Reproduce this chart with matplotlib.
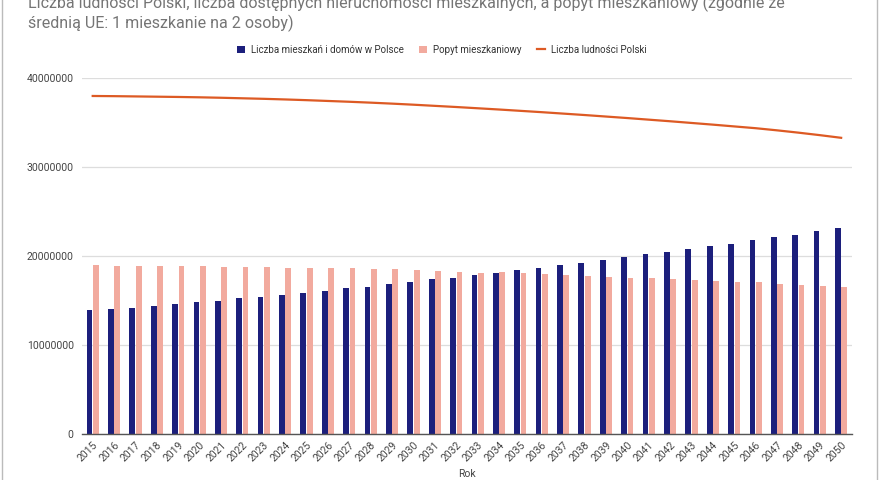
import matplotlib.pyplot as plt
import numpy as np
from matplotlib.patches import Rectangle

plt.rcParams['font.family'] = ['Roboto', 'DejaVu Sans']

years = [str(y) for y in range(2015, 2051)]

# liczba mieszkan i domow (mln)
homes = [13.93, 14.04, 14.2, 14.4, 14.6, 14.8, 14.98, 15.25, 15.43, 15.6,
         15.88, 16.1, 16.37, 16.55, 16.85, 17.1, 17.38, 17.57, 17.83, 18.12,
         18.39, 18.69, 18.96, 19.25, 19.51, 19.89, 20.19, 20.45, 20.82, 21.09,
         21.38, 21.76, 22.1, 22.4, 22.77, 23.11]

# popyt mieszkaniowy (mln)
demand = [18.99, 18.92, 18.9, 18.88, 18.88, 18.88, 18.8, 18.8, 18.78, 18.68,
          18.68, 18.6, 18.6, 18.5, 18.5, 18.38, 18.28, 18.2, 18.12, 18.17,
          18.06, 17.98, 17.83, 17.75, 17.64, 17.57, 17.49, 17.38, 17.3, 17.23,
          17.12, 17.04, 16.85, 16.74, 16.63, 16.55]

# liczba ludnosci (mln)
population = [37.98, 37.96, 37.93, 37.9, 37.87, 37.83, 37.78, 37.72, 37.66, 37.59,
              37.51, 37.42, 37.33, 37.23, 37.12, 37.0, 36.87, 36.74, 36.6, 36.46,
              36.31, 36.16, 36.0, 35.84, 35.67, 35.5, 35.32, 35.14, 34.95, 34.76,
              34.56, 34.36, 34.12, 33.86, 33.58, 33.28]

homes = np.array(homes) * 1e6
demand = np.array(demand) * 1e6
population = np.array(population) * 1e6

navy = '#1c1f7c'
pink = '#f2aa9e'
orange = '#dd5a24'

fig = plt.figure(figsize=(8.8, 4.8), dpi=100)
ax = fig.add_axes([0.0932, 0.0958, 0.8748, 0.7417])

x = np.arange(len(years))
w = 0.27
b1 = ax.bar(x - 0.15, homes, w, color=navy, label='Liczba mieszkań i domów w Polsce', zorder=3)
b2 = ax.bar(x + 0.15, demand, w, color=pink, label='Popyt mieszkaniowy', zorder=3)
l1, = ax.plot(x, population, color=orange, lw=1.6, label='Liczba ludności Polski', zorder=4)

ax.set_xlim(-0.5, len(years) - 0.5)
ax.set_ylim(0, 40000000)
ax.set_yticks([0, 10000000, 20000000, 30000000, 40000000])
ax.set_yticklabels(['0', '10000000', '20000000', '30000000', '40000000'])
ax.set_xticks(x)
ax.set_xticklabels(years, rotation=45, ha='right', rotation_mode='anchor')
ax.tick_params(axis='x', labelsize=7.5, colors='#444444', length=0, pad=4)
ax.tick_params(axis='y', labelsize=7.5, colors='#444444', length=0, pad=6)
ax.grid(axis='y', color='#dddddd', lw=0.9, zorder=0)
for s in ['top', 'right', 'left']:
    ax.spines[s].set_visible(False)
ax.spines['bottom'].set_color('#555555')
ax.spines['bottom'].set_linewidth(1.0)
ax.spines['bottom'].set_zorder(5)
ax.set_xlabel('Rok', fontsize=7.5, color='#444444', labelpad=4)

leg = fig.legend([b1, b2, l1], [b1.get_label(), b2.get_label(), l1.get_label()],
                 loc='center', bbox_to_anchor=(0.502, 1 - 50 / 480), ncol=3, frameon=False,
                 fontsize=7, handlelength=0.8, handleheight=0.8, columnspacing=1.6,
                 handletextpad=0.6)
for t in leg.get_texts():
    t.set_color('#333333')

fig.text(28 / 880, 1 + 5 / 480, 'Liczba ludności Polski, liczba dostępnych nieruchomości mieszkalnych, a popyt mieszkaniowy (zgodnie ze\nśrednią UE: 1 mieszkanie na 2 osoby)',
         fontsize=11.5, color='#757575', va='top', ha='left', linespacing=1.15)

fig.patches.append(Rectangle((2 / 880, -0.1), 875 / 880, 1.2, transform=fig.transFigure,
                             fill=False, edgecolor='#bbbbbb', lw=1.0))

fig.savefig('out.png', dpi=100)
